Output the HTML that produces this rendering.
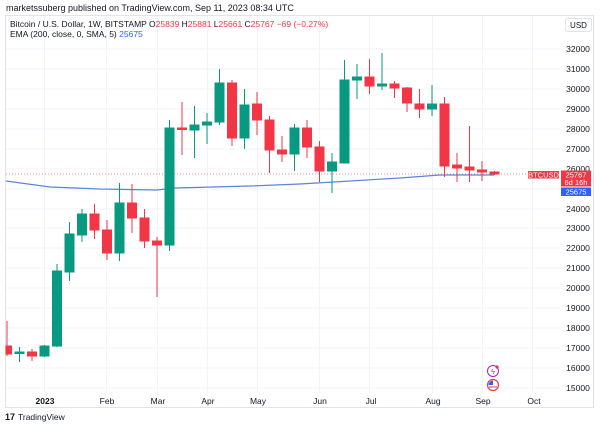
<!DOCTYPE html>
<html><head><meta charset="utf-8"><style>
body{margin:0;width:600px;height:429px;background:#fff;overflow:hidden;font-family:"Liberation Sans",sans-serif}
svg{display:block}
</style></head><body>
<svg width="600" height="429" xmlns="http://www.w3.org/2000/svg" font-family="Liberation Sans, sans-serif">
<text x="6" y="11" font-size="9" fill="#131722">marketssuberg published on TradingView.com, Sep 11, 2023 08:34 UTC</text>
<rect x="5.5" y="15.5" width="588" height="392" fill="#fff" stroke="#e0e3eb"/>
<g stroke="#f0f3fa" stroke-width="1">
<line x1="6" x2="560" y1="49" y2="49"/><line x1="6" x2="560" y1="69" y2="69"/><line x1="6" x2="560" y1="89" y2="89"/><line x1="6" x2="560" y1="109" y2="109"/><line x1="6" x2="560" y1="129" y2="129"/><line x1="6" x2="560" y1="149" y2="149"/><line x1="6" x2="560" y1="169" y2="169"/><line x1="6" x2="560" y1="189" y2="189"/><line x1="6" x2="560" y1="209" y2="209"/><line x1="6" x2="560" y1="228" y2="228"/><line x1="6" x2="560" y1="248" y2="248"/><line x1="6" x2="560" y1="268" y2="268"/><line x1="6" x2="560" y1="288" y2="288"/><line x1="6" x2="560" y1="308" y2="308"/><line x1="6" x2="560" y1="328" y2="328"/><line x1="6" x2="560" y1="348" y2="348"/><line x1="6" x2="560" y1="368" y2="368"/><line x1="6" x2="560" y1="388" y2="388"/>
<line x1="44.5" x2="44.5" y1="16" y2="393"/><line x1="106.5" x2="106.5" y1="16" y2="393"/><line x1="157.5" x2="157.5" y1="16" y2="393"/><line x1="207.5" x2="207.5" y1="16" y2="393"/><line x1="257.5" x2="257.5" y1="16" y2="393"/><line x1="319.5" x2="319.5" y1="16" y2="393"/><line x1="369.5" x2="369.5" y1="16" y2="393"/><line x1="432.5" x2="432.5" y1="16" y2="393"/><line x1="482.5" x2="482.5" y1="16" y2="393"/><line x1="532.5" x2="532.5" y1="16" y2="393"/>
</g>
<text x="10" y="27" font-size="8.5" fill="#131722">Bitcoin / U.S. Dollar, 1W, BITSTAMP  <tspan>O</tspan><tspan fill="#f23645">25839</tspan> H<tspan fill="#f23645">25881</tspan> L<tspan fill="#f23645">25661</tspan> C<tspan fill="#f23645">25767 −69 (−0.27%)</tspan></text>
<text x="10" y="37" font-size="8.5" fill="#131722">EMA (200, close, 0, SMA, 5) <tspan fill="#2962ff">25675</tspan></text>
<rect x="565.5" y="18.5" width="26" height="13" rx="2" fill="#fff" stroke="#e0e3eb"/>
<text x="578.5" y="28" font-size="8" fill="#131722" text-anchor="middle">USD</text>
<g font-size="8.5" fill="#131722" text-anchor="middle">
<text x="578" y="52">32000</text><text x="578" y="72">31000</text><text x="578" y="92">30000</text><text x="578" y="112">29000</text><text x="578" y="132">28000</text><text x="578" y="152">27000</text><text x="578" y="172">26000</text><text x="578" y="212">24000</text><text x="578" y="231">23000</text><text x="578" y="251">22000</text><text x="578" y="271">21000</text><text x="578" y="291">20000</text><text x="578" y="311">19000</text><text x="578" y="331">18000</text><text x="578" y="351">17000</text><text x="578" y="371">16000</text><text x="578" y="391">15000</text>
</g>
<g font-size="8.5" fill="#131722" text-anchor="middle">
<text x="45" y="404" font-weight="bold">2023</text><text x="107" y="404">Feb</text><text x="158" y="404">Mar</text><text x="208" y="404">Apr</text><text x="258" y="404">May</text><text x="320" y="404">Jun</text><text x="371" y="404">Jul</text><text x="433" y="404">Aug</text><text x="483" y="404">Sep</text><text x="534" y="404">Oct</text>
</g>
<line x1="6" x2="560" y1="174" y2="174" stroke="#f23645" stroke-dasharray="1,2" opacity="0.6"/>
<polyline fill="none" stroke="#5b84dd" stroke-width="1.2" points="6,181 50,187 100,189 157,190 175,188 250,186 300,184 350,181 400,178 440,175 494,175"/>
<g stroke-width="1">
<g stroke="#f23645" fill="#f23645"><line x1="7" x2="7" y1="321" y2="356"/><rect x="6" y="346" width="5.5" height="8"/></g>
<g stroke="#089981" fill="#089981"><line x1="19.5" x2="19.5" y1="347" y2="362"/><rect x="15" y="352" width="9" height="1.5"/></g>
<g stroke="#f23645" fill="#f23645"><line x1="32" x2="32" y1="349" y2="361"/><rect x="27.5" y="352" width="9" height="4"/></g>
<g stroke="#089981" fill="#089981"><line x1="44.5" x2="44.5" y1="345" y2="357"/><rect x="40" y="346" width="9" height="10"/></g>
<g stroke="#089981" fill="#089981"><line x1="57" x2="57" y1="264" y2="347"/><rect x="52.5" y="271" width="9" height="75"/></g>
<g stroke="#089981" fill="#089981"><line x1="69.5" x2="69.5" y1="222" y2="281"/><rect x="65" y="234" width="9" height="38"/></g>
<g stroke="#089981" fill="#089981"><line x1="82" x2="82" y1="209" y2="242"/><rect x="77.5" y="214" width="9" height="21"/></g>
<g stroke="#f23645" fill="#f23645"><line x1="94.5" x2="94.5" y1="204" y2="239"/><rect x="90" y="214" width="9" height="16"/></g>
<g stroke="#f23645" fill="#f23645"><line x1="107" x2="107" y1="220" y2="260"/><rect x="102.5" y="230" width="9" height="23"/></g>
<g stroke="#089981" fill="#089981"><line x1="119.5" x2="119.5" y1="183" y2="261"/><rect x="115" y="203" width="9" height="50"/></g>
<g stroke="#f23645" fill="#f23645"><line x1="132" x2="132" y1="184" y2="233"/><rect x="127.5" y="203" width="9" height="15"/></g>
<g stroke="#f23645" fill="#f23645"><line x1="144.5" x2="144.5" y1="209" y2="248"/><rect x="140" y="218" width="9" height="23"/></g>
<g stroke="#f23645" fill="#f23645"><line x1="157" x2="157" y1="237" y2="297"/><rect x="152.5" y="241" width="9" height="4"/></g>
<g stroke="#089981" fill="#089981"><line x1="169.5" x2="169.5" y1="120" y2="251"/><rect x="165" y="128" width="9" height="117"/></g>
<g stroke="#f23645" fill="#f23645"><line x1="182" x2="182" y1="102" y2="155"/><rect x="177.5" y="128" width="9" height="1.5"/></g>
<g stroke="#089981" fill="#089981"><line x1="194.5" x2="194.5" y1="106" y2="158"/><rect x="190" y="125" width="9" height="5"/></g>
<g stroke="#089981" fill="#089981"><line x1="207" x2="207" y1="113" y2="144"/><rect x="202.5" y="122" width="9" height="3"/></g>
<g stroke="#089981" fill="#089981"><line x1="219.5" x2="219.5" y1="69" y2="125"/><rect x="215" y="83" width="9" height="39"/></g>
<g stroke="#f23645" fill="#f23645"><line x1="232" x2="232" y1="80" y2="146"/><rect x="227.5" y="83" width="9" height="55"/></g>
<g stroke="#089981" fill="#089981"><line x1="244.5" x2="244.5" y1="89" y2="149"/><rect x="240" y="105" width="9" height="33"/></g>
<g stroke="#f23645" fill="#f23645"><line x1="257" x2="257" y1="92" y2="135"/><rect x="252.5" y="104" width="9" height="16"/></g>
<g stroke="#f23645" fill="#f23645"><line x1="269.5" x2="269.5" y1="116" y2="173"/><rect x="265" y="120" width="9" height="30"/></g>
<g stroke="#f23645" fill="#f23645"><line x1="282" x2="282" y1="136" y2="162"/><rect x="277.5" y="150" width="9" height="4"/></g>
<g stroke="#089981" fill="#089981"><line x1="294.5" x2="294.5" y1="124" y2="171"/><rect x="290" y="128" width="9" height="26"/></g>
<g stroke="#f23645" fill="#f23645"><line x1="307" x2="307" y1="120" y2="158"/><rect x="302.5" y="128" width="9" height="19"/></g>
<g stroke="#f23645" fill="#f23645"><line x1="319.5" x2="319.5" y1="141" y2="182"/><rect x="315" y="147" width="9" height="24"/></g>
<g stroke="#089981" fill="#089981"><line x1="332" x2="332" y1="153" y2="193"/><rect x="327.5" y="162" width="9" height="9"/></g>
<g stroke="#089981" fill="#089981"><line x1="344.5" x2="344.5" y1="60" y2="163"/><rect x="340" y="80" width="9" height="83"/></g>
<g stroke="#089981" fill="#089981"><line x1="357" x2="357" y1="64" y2="99"/><rect x="352.5" y="77" width="9" height="3"/></g>
<g stroke="#f23645" fill="#f23645"><line x1="369.5" x2="369.5" y1="59" y2="94"/><rect x="365" y="77" width="9" height="9"/></g>
<g stroke="#089981" fill="#089981"><line x1="382" x2="382" y1="53" y2="90"/><rect x="377.5" y="84" width="9" height="2"/></g>
<g stroke="#f23645" fill="#f23645"><line x1="394.5" x2="394.5" y1="81" y2="98"/><rect x="390" y="84" width="9" height="4"/></g>
<g stroke="#f23645" fill="#f23645"><line x1="407" x2="407" y1="87" y2="112"/><rect x="402.5" y="88" width="9" height="15"/></g>
<g stroke="#f23645" fill="#f23645"><line x1="419.5" x2="419.5" y1="89" y2="118"/><rect x="415" y="104" width="9" height="5"/></g>
<g stroke="#089981" fill="#089981"><line x1="432" x2="432" y1="85" y2="116"/><rect x="427.5" y="104" width="9" height="5"/></g>
<g stroke="#f23645" fill="#f23645"><line x1="444.5" x2="444.5" y1="97" y2="177"/><rect x="440" y="104" width="9" height="62"/></g>
<g stroke="#f23645" fill="#f23645"><line x1="457" x2="457" y1="153" y2="182"/><rect x="452.5" y="165" width="9" height="3"/></g>
<g stroke="#f23645" fill="#f23645"><line x1="469.5" x2="469.5" y1="126" y2="182"/><rect x="465" y="167" width="9" height="3"/></g>
<g stroke="#f23645" fill="#f23645"><line x1="482" x2="482" y1="161" y2="181"/><rect x="477.5" y="170" width="9" height="2"/></g>
<g stroke="#f23645" fill="#f23645"><line x1="494.5" x2="494.5" y1="171" y2="175"/><rect x="490" y="172" width="9" height="2"/></g>
</g>
<rect x="528" y="171" width="31" height="7.5" fill="#f23645"/>
<text x="543.5" y="177.5" font-size="7.5" fill="#fff" text-anchor="middle">BTCUSD</text>
<rect x="561" y="170.5" width="30" height="16" fill="#f23645"/>
<text x="576" y="177.5" font-size="7.5" fill="#fff" text-anchor="middle">25767</text>
<text x="576" y="185" font-size="7.5" fill="#fff" text-anchor="middle">6d 16h</text>
<rect x="561" y="187.5" width="30" height="8.5" fill="#2962ff"/>
<text x="576" y="194.5" font-size="7.5" fill="#fff" text-anchor="middle">25675</text>
<circle cx="493" cy="371" r="5.5" fill="#fff" stroke="#9c27b0" stroke-width="1"/>
<text x="493" y="374" font-size="7" fill="#9c27b0" text-anchor="middle">ϟ</text>
<circle cx="497" cy="367" r="1.6" fill="#f23645"/>
<circle cx="493" cy="385" r="5.5" fill="#fff" stroke="#f23645" stroke-width="1.2"/>
<path d="M488.5 385 A4.5 4.5 0 0 1 493 380.5 L493 385 Z" fill="#2962ff"/>
<line x1="489" x2="497" y1="387" y2="387" stroke="#f23645"/>
<text x="5" y="420" font-size="9" font-weight="bold" fill="#131722">17</text>
<text x="18" y="420" font-size="8.5" fill="#131722">TradingView</text>
</svg>
</body></html>
